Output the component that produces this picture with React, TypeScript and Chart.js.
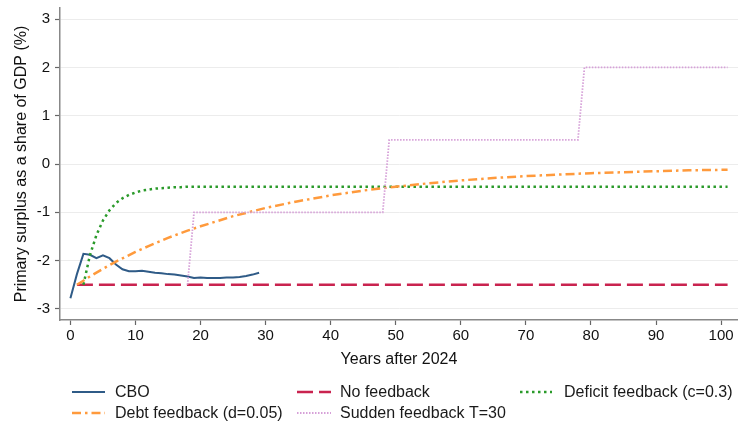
import React, { useEffect, useRef } from "react";
import { Chart, registerables } from "chart.js";

Chart.register(...registerables);

// ---- Data ----
const cboYears = [0, 1, 2, 3, 4, 5, 6, 7, 8, 9, 10, 11, 12, 13, 14, 15, 16, 17, 18, 19, 20, 21, 22, 23, 24, 25, 26, 27, 28, 29];
const cboValues = [-2.78, -2.28, -1.86, -1.88, -1.95, -1.89, -1.95, -2.08, -2.18, -2.22, -2.22, -2.21, -2.23, -2.25, -2.26, -2.28, -2.29, -2.31, -2.33, -2.36, -2.35, -2.36, -2.36, -2.36, -2.35, -2.35, -2.34, -2.32, -2.29, -2.25];

const noFbYears = [1, 101];
const noFbValues = [-2.5, -2.5];

const deficitYears = [2, 3, 4, 5, 6, 7, 8, 9, 10, 11, 12, 13, 14, 15, 16, 17, 18, 101];
const deficitValues = [-2.5, -1.89, -1.47, -1.17, -0.96, -0.81, -0.71, -0.64, -0.59, -0.55, -0.53, -0.51, -0.5, -0.49, -0.48, -0.48, -0.47, -0.47];

const debtYears = [1, 3, 5, 7, 10, 12, 15, 18, 20, 25, 30, 35, 40, 45, 50, 55, 60, 65, 70, 75, 80, 85, 90, 95, 101];
const debtValues = [-2.5, -2.33, -2.17, -2.02, -1.82, -1.7, -1.53, -1.38, -1.29, -1.08, -0.91, -0.77, -0.65, -0.55, -0.47, -0.4, -0.34, -0.29, -0.25, -0.22, -0.19, -0.17, -0.15, -0.13, -0.12];

const suddenYears = [18, 19, 48, 49, 78, 79, 101];
const suddenValues = [-2.5, -1, -1, 0.5, 0.5, 2, 2];

const xTicks = [0, 10, 20, 30, 40, 50, 60, 70, 80, 90, 100];
const yTicks = [-3, -2, -1, 0, 1, 2, 3];

const seriesLabels = ["CBO", "No feedback", "Deficit feedback (c=0.3)", "Debt feedback (d=0.05)", "Sudden feedback T=30"];

const FONT = "'Liberation Sans', Arial, Helvetica, sans-serif";

const pts = (xs: number[], ys: number[]) => xs.map((x, i) => ({ x, y: ys[i] }));

const styles = [
  { color: "#2f5b87", width: 2, dash: [] as number[] },
  { color: "#c9234f", width: 2.5, dash: [16, 6] },
  { color: "#2a9a2a", width: 2.5, dash: [2.5, 3.5] },
  { color: "#ff9a3c", width: 2.5, dash: [9, 4, 2.5, 4] },
  { color: "#d6a0d8", width: 1.8, dash: [1.5, 1.5] },
];

const legendPlugin = {
  id: "customLegend",
  afterDraw(chart: any) {
    const ctx = chart.ctx;
    const slots = [
      { x1: 72, x2: 105, tx: 115, y: 392 },
      { x1: 297, x2: 331, tx: 340, y: 392 },
      { x1: 520, x2: 552, tx: 564, y: 392 },
      { x1: 72, x2: 105, tx: 115, y: 413 },
      { x1: 297, x2: 331, tx: 340, y: 413 },
    ];
    ctx.save();
    slots.forEach((s, i) => {
      const st = styles[i];
      ctx.beginPath();
      ctx.setLineDash(st.dash);
      ctx.strokeStyle = st.color;
      ctx.lineWidth = st.width;
      ctx.moveTo(s.x1, s.y);
      ctx.lineTo(s.x2, s.y);
      ctx.stroke();
      ctx.setLineDash([]);
      ctx.fillStyle = "#1a1a1a";
      ctx.font = `16px ${FONT}`;
      ctx.textBaseline = "middle";
      ctx.textAlign = "left";
      ctx.fillText(seriesLabels[i], s.tx, s.y + 1);
    });
    ctx.restore();
  },
};

export default function App() {
  const ref = useRef<HTMLCanvasElement | null>(null);

  useEffect(() => {
    if (!ref.current) return;
    const data = [
      pts(cboYears, cboValues),
      pts(noFbYears, noFbValues),
      pts(deficitYears, deficitValues),
      pts(debtYears, debtValues),
      pts(suddenYears, suddenValues),
    ];
    const chart = new Chart(ref.current, {
      type: "line",
      data: {
        datasets: data.map((d, i) => ({
          label: seriesLabels[i],
          data: d,
          borderColor: styles[i].color,
          backgroundColor: styles[i].color,
          borderWidth: styles[i].width,
          borderDash: styles[i].dash,
          pointRadius: 0,
          tension: 0,
          fill: false,
          order: 5 - i,
        })),
      },
      options: {
        animation: false,
        responsive: false,
        layout: { padding: { top: 8, right: 0, left: 0, bottom: 0 } },
        plugins: { legend: { display: false }, tooltip: { enabled: false } },
        scales: {
          x: {
            type: "linear",
            min: -1.6,
            max: 102.6,
            afterBuildTicks: (scale: any) => {
              scale.ticks = xTicks.map((v) => ({ value: v }));
            },
            afterFit: (scale: any) => {
              scale.height = 106;
              scale.paddingLeft = 0;
              scale.paddingRight = 0;
            },
            grid: { drawOnChartArea: false, tickLength: 5, tickColor: "#666", tickWidth: 1.2 },
            border: { display: true, color: "#888", width: 1.5 },
            ticks: { color: "#111", font: { family: FONT, size: 15 }, padding: 2, maxRotation: 0, autoSkip: false },
            title: {
              display: true,
              text: "Years after 2024",
              color: "#111",
              font: { family: FONT, size: 16 },
              padding: { top: 0, bottom: 57 },
            },
          },
          y: {
            type: "linear",
            min: -3.23,
            max: 3.23,
            afterBuildTicks: (scale: any) => {
              scale.ticks = yTicks.map((v) => ({ value: v }));
            },
            afterFit: (scale: any) => {
              scale.width = 60;
              scale.paddingTop = 0;
              scale.paddingBottom = 0;
            },
            grid: { color: "#ececec", lineWidth: 1, tickLength: 5, tickColor: "#666", tickWidth: 1.2 },
            border: { display: true, color: "#888", width: 1.5 },
            ticks: { color: "#111", font: { family: FONT, size: 15 }, padding: 5, autoSkip: false },
            title: {
              display: true,
              text: "Primary surplus as a share of GDP (%)",
              color: "#111",
              font: { family: FONT, size: 16 },
              padding: { top: 12, bottom: 0 },
            },
          },
        },
      },
      plugins: [legendPlugin],
    });
    return () => chart.destroy();
  }, []);

  return (
    <div style={{ position: "absolute", left: 0, top: 0, width: 738, height: 426, background: "#fff" }}>
      <canvas ref={ref} width={738} height={426} style={{ width: 738, height: 426, display: "block" }} />
    </div>
  );
}
